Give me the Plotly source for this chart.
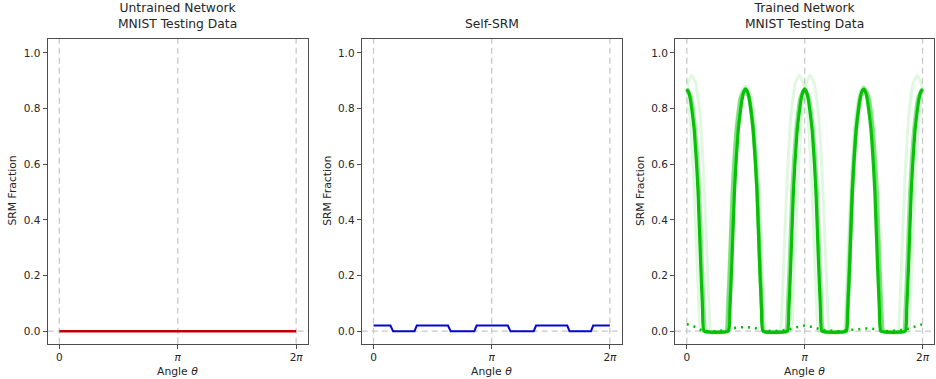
import plotly.graph_objects as go

# ---------------- data ----------------
x_ticks = [0, 3.14159, 6.28319]
x_tick_labels = ["0", "<i>π</i>", "2<i>π</i>"]
y_ticks = [0.0, 0.2, 0.4, 0.6, 0.8, 1.0]
y_tick_labels = ["0.0", "0.2", "0.4", "0.6", "0.8", "1.0"]

# Panel 1: untrained network (flat at zero)
untrained_theta = [0.0, 6.28319]
untrained_vals = [0.0, 0.0]

# Panel 2: self-SRM (step-like)
self_theta = [0.00, 0.45, 0.52, 1.09, 1.15, 1.98, 2.05, 2.68, 2.74, 3.57, 3.64,
              4.26, 4.32, 5.15, 5.21, 5.78, 5.84, 6.28319]
self_vals = [0.02, 0.02, 0.0, 0.0, 0.02, 0.02, 0.0, 0.0, 0.02, 0.02, 0.0,
             0.0, 0.02, 0.02, 0.0, 0.0, 0.02, 0.02]

# Panel 3: trained network, main curve
main_theta = ([0.00, 0.05, 0.10, 0.15, 0.20, 0.26, 0.30, 0.37, 0.42, 0.46]
              + [1.111, 1.151, 1.201, 1.271, 1.311, 1.371, 1.421, 1.471, 1.521, 1.571, 1.621, 1.671, 1.721, 1.771, 1.831, 1.871, 1.941, 1.991, 2.031]
              + [2.682, 2.722, 2.772, 2.842, 2.882, 2.942, 2.992, 3.042, 3.092, 3.142, 3.192, 3.242, 3.292, 3.342, 3.402, 3.442, 3.512, 3.562, 3.602]
              + [4.252, 4.292, 4.342, 4.412, 4.452, 4.512, 4.562, 4.612, 4.662, 4.712, 4.762, 4.812, 4.862, 4.912, 4.972, 5.012, 5.082, 5.132, 5.172]
              + [5.823, 5.863, 5.913, 5.983, 6.023, 6.083, 6.133, 6.183, 6.233, 6.283])
main_vals = ([0.87, 0.86, 0.83, 0.78, 0.72, 0.60, 0.50, 0.24, 0.08, 0.0]
             + [0.0, 0.08, 0.24, 0.50, 0.60, 0.72, 0.78, 0.83, 0.86, 0.87, 0.86, 0.83, 0.78, 0.72, 0.60, 0.50, 0.24, 0.08, 0.0]
             + [0.0, 0.08, 0.24, 0.50, 0.60, 0.72, 0.78, 0.83, 0.86, 0.87, 0.86, 0.83, 0.78, 0.72, 0.60, 0.50, 0.24, 0.08, 0.0]
             + [0.0, 0.08, 0.24, 0.50, 0.60, 0.72, 0.78, 0.83, 0.86, 0.87, 0.86, 0.83, 0.78, 0.72, 0.60, 0.50, 0.24, 0.08, 0.0]
             + [0.0, 0.08, 0.24, 0.50, 0.60, 0.72, 0.78, 0.83, 0.86, 0.87])

# Panel 3: medium-opacity curve
mid_theta = ([0.00, 0.11, 0.21, 0.28, 0.33, 0.40, 0.45, 0.50]
             + [1.05, 1.10, 1.15, 1.22, 1.27, 1.34, 1.44, 1.55, 1.66, 1.76, 1.83, 1.88, 1.95, 2.00, 2.05]
             + [2.64, 2.69, 2.74, 2.81, 2.86, 2.93, 3.03, 3.14, 3.25, 3.35, 3.42, 3.47, 3.54, 3.59, 3.64]
             + [4.24, 4.29, 4.34, 4.41, 4.46, 4.53, 4.63, 4.74, 4.85, 4.95, 5.02, 5.07, 5.14, 5.19, 5.24]
             + [5.78, 5.83, 5.88, 5.95, 6.00, 6.07, 6.17, 6.283])
mid_vals = ([0.87, 0.84, 0.74, 0.62, 0.50, 0.24, 0.08, 0.0]
            + [0.0, 0.08, 0.24, 0.50, 0.62, 0.74, 0.84, 0.87, 0.84, 0.74, 0.62, 0.50, 0.24, 0.08, 0.0]
            + [0.0, 0.08, 0.24, 0.50, 0.62, 0.74, 0.84, 0.87, 0.84, 0.74, 0.62, 0.50, 0.24, 0.08, 0.0]
            + [0.0, 0.08, 0.24, 0.50, 0.62, 0.74, 0.84, 0.87, 0.84, 0.74, 0.62, 0.50, 0.24, 0.08, 0.0]
            + [0.0, 0.08, 0.24, 0.50, 0.62, 0.74, 0.84, 0.87])

# Panel 3: faint curves
faint_a_theta = ([0.00, 0.13, 0.24, 0.35, 0.45, 0.53, 0.59, 0.65]
                 + [1.08, 1.14, 1.20, 1.28, 1.38, 1.49, 1.60, 1.71, 1.82, 1.92, 2.00, 2.06, 2.12]
                 + [2.77, 2.83, 2.89, 2.97, 3.07, 3.18, 3.29, 3.40, 3.51, 3.61, 3.69, 3.75, 3.81]
                 + [4.20, 4.26, 4.32, 4.40, 4.50, 4.61, 4.72, 4.83, 4.94, 5.04, 5.12, 5.18, 5.24]
                 + [5.90, 5.96, 6.02, 6.10, 6.20, 6.283])
faint_a_vals = ([0.88, 0.92, 0.89, 0.78, 0.56, 0.30, 0.10, 0.0]
                + [0.0, 0.10, 0.30, 0.54, 0.75, 0.85, 0.88, 0.85, 0.75, 0.54, 0.30, 0.10, 0.0]
                + [0.0, 0.10, 0.30, 0.56, 0.78, 0.89, 0.92, 0.89, 0.78, 0.56, 0.30, 0.10, 0.0]
                + [0.0, 0.10, 0.30, 0.54, 0.75, 0.85, 0.88, 0.85, 0.75, 0.54, 0.30, 0.10, 0.0]
                + [0.0, 0.10, 0.30, 0.56, 0.78, 0.87])
faint_b_theta = ([0.00, 0.08, 0.18, 0.26, 0.32, 0.38]
                 + [1.02, 1.08, 1.14, 1.22, 1.32, 1.43, 1.54, 1.65, 1.76, 1.86, 1.94, 2.00, 2.06]
                 + [2.48, 2.54, 2.60, 2.68, 2.78, 2.89, 3.00, 3.11, 3.22, 3.32, 3.40, 3.46, 3.52]
                 + [4.18, 4.24, 4.30, 4.38, 4.48, 4.59, 4.70, 4.81, 4.92, 5.02, 5.10, 5.16, 5.22]
                 + [5.62, 5.68, 5.74, 5.82, 5.92, 6.03, 6.14, 6.25, 6.283])
faint_b_vals = ([0.87, 0.78, 0.56, 0.30, 0.10, 0.0]
                + [0.0, 0.10, 0.30, 0.54, 0.75, 0.85, 0.88, 0.85, 0.75, 0.54, 0.30, 0.10, 0.0]
                + [0.0, 0.10, 0.30, 0.56, 0.78, 0.89, 0.92, 0.89, 0.78, 0.56, 0.30, 0.10, 0.0]
                + [0.0, 0.10, 0.30, 0.54, 0.75, 0.85, 0.88, 0.85, 0.75, 0.54, 0.30, 0.10, 0.0]
                + [0.0, 0.10, 0.30, 0.56, 0.78, 0.89, 0.92, 0.89, 0.87])

# Panel 3: dotted low curve
dot_theta = [0.00, 0.15, 0.30, 0.45, 0.80, 1.10, 1.30, 1.55, 1.80, 2.00, 2.30,
             2.70, 2.95, 3.14, 3.35, 3.60, 4.00, 4.40, 4.60, 4.80, 5.00, 5.30,
             5.80, 6.05, 6.283]
dot_vals = [0.025, 0.02, 0.01, 0.0, 0.0, 0.005, 0.012, 0.015, 0.012, 0.005, 0.0,
            0.005, 0.015, 0.02, 0.015, 0.005, 0.0, 0.005, 0.01, 0.01, 0.008, 0.0,
            0.005, 0.015, 0.025]

titles = ["Untrained Network<br>MNIST Testing Data", "Self-SRM", "Trained Network<br>MNIST Testing Data"]

# ---------------- layout geometry ----------------
W, H = 936, 379
px_x = [(47.5, 308.0), (361.7, 621.7), (675.0, 934.3)]
px_top, px_bot = 38.5, 343.7
ydom = [(H - px_bot) / H, (H - px_top) / H]
xr = [-0.05 * 6.28319, 1.05 * 6.28319]
yr = [-0.045, 1.052]

FONT = "DejaVu Sans"
TXT = "#262626"
SPINE = "#4d4d4d"
GRID = "#c8c8c8"

fig = go.Figure()

def add(tr, i):
    tr.xaxis = "x" if i == 0 else f"x{i+1}"
    tr.yaxis = "y" if i == 0 else f"y{i+1}"
    fig.add_trace(tr)

# panel 1
add(go.Scatter(x=untrained_theta, y=untrained_vals, mode="lines",
               line=dict(color="#c00000", width=2.5), showlegend=False), 0)
# panel 2
add(go.Scatter(x=self_theta, y=self_vals, mode="lines",
               line=dict(color="#0508cc", width=2), showlegend=False), 1)
# panel 3
for th, vv in ((faint_a_theta, faint_a_vals), (faint_b_theta, faint_b_vals)):
    add(go.Scatter(x=th, y=vv, mode="lines", line_shape="spline", line_smoothing=0.4,
                   line=dict(color="rgba(0,200,0,0.12)", width=3), showlegend=False), 2)
add(go.Scatter(x=mid_theta, y=mid_vals, mode="lines", line_shape="spline", line_smoothing=0.4,
               line=dict(color="rgba(0,200,0,0.45)", width=4), showlegend=False), 2)
add(go.Scatter(x=main_theta, y=main_vals, mode="lines", line_shape="spline", line_smoothing=0.4,
               line=dict(color="rgba(0,190,0,0.95)", width=3.2), showlegend=False), 2)
add(go.Scatter(x=dot_theta, y=dot_vals, mode="lines",
               line=dict(color="rgb(0,190,0)", width=2.5, dash="2px,5px"), showlegend=False), 2)

shapes = []
annotations = []
for i in range(3):
    xa = "xaxis" if i == 0 else f"xaxis{i+1}"
    ya = "yaxis" if i == 0 else f"yaxis{i+1}"
    xref = "x" if i == 0 else f"x{i+1}"
    yref = "y" if i == 0 else f"y{i+1}"
    x0, x1 = px_x[i]
    fig.layout[xa] = dict(
        domain=[x0 / W, x1 / W], range=xr, anchor=yref,
        tickmode="array", tickvals=x_ticks, ticktext=x_tick_labels,
        ticks="outside", ticklen=4, tickwidth=1, tickcolor=SPINE,
        showline=True, linecolor=SPINE, linewidth=1, mirror=True,
        showgrid=False, zeroline=False, automargin=False,
        tickfont=dict(family=FONT, size=10.5, color=TXT),
    )
    fig.layout[ya] = dict(
        domain=ydom, range=yr, anchor=xref,
        tickmode="array", tickvals=y_ticks, ticktext=y_tick_labels,
        ticks="outside", ticklen=4, tickwidth=1, tickcolor=SPINE,
        showline=True, linecolor=SPINE, linewidth=1, mirror=True,
        showgrid=False, zeroline=False, automargin=False,
        tickfont=dict(family=FONT, size=10.5, color=TXT),
    )
    # dashed reference lines
    for xv in x_ticks:
        shapes.append(dict(type="line", xref=xref, yref=f"{yref} domain", x0=xv, x1=xv, y0=0, y1=1,
                           line=dict(color=GRID, width=1.3, dash="6px,4px"), layer="below"))
    shapes.append(dict(type="line", xref=f"{xref} domain", yref=yref, x0=0, x1=1, y0=0, y1=0,
                       line=dict(color=GRID, width=1.3, dash="6px,4px"), layer="below"))
    cx = (x0 + x1) / 2 / W
    annotations.append(dict(text=titles[i], x=cx, y=(H - 33) / H, xref="paper", yref="paper",
                            xanchor="center", yanchor="bottom", showarrow=False,
                            font=dict(family=FONT, size=12.3, color=TXT), align="center"))
    annotations.append(dict(text="Angle <i>θ</i>", x=cx, y=(H - 371) / H, xref="paper", yref="paper",
                            xanchor="center", yanchor="middle", showarrow=False,
                            font=dict(family=FONT, size=10.8, color=TXT)))
    annotations.append(dict(text="SRM Fraction", x=(x0 - 35) / W, y=(ydom[0] + ydom[1]) / 2,
                            xref="paper", yref="paper", xanchor="center", yanchor="middle",
                            textangle=-90, showarrow=False,
                            font=dict(family=FONT, size=10.8, color=TXT)))

fig.update_layout(
    width=W, height=H, margin=dict(l=0, r=0, t=0, b=0),
    paper_bgcolor="white", plot_bgcolor="white",
    shapes=shapes, annotations=annotations, showlegend=False,
)

fig.write_html("out.html", config={"displayModeBar": False, "staticPlot": True},
               post_script="document.body.style.margin='0';document.body.style.overflow='hidden';")
